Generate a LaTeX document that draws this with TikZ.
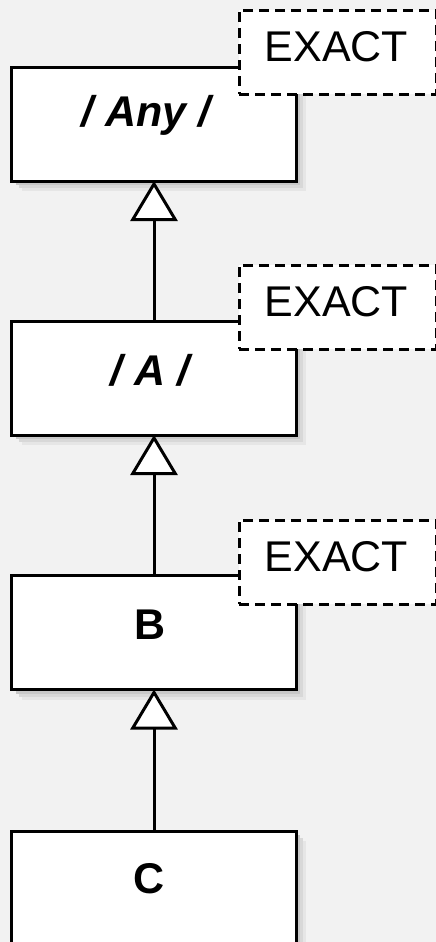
\documentclass[tikz,border=0pt]{standalone}
\usepackage{fontspec}
\setmainfont{Liberation Sans}
\usetikzlibrary{arrows.meta}
\definecolor{bg}{HTML}{F2F2F2}
\definecolor{sh1}{HTML}{E6E6E6}
\definecolor{sh2}{HTML}{D8D8D8}
\definecolor{sh3}{HTML}{C8C8C8}
\begin{document}
\begin{tikzpicture}[x=1bp,y=-1bp,
  cls/.style={draw=black, fill=white, line width=3bp, minimum width=284bp, minimum height=114bp, inner sep=0pt, outer sep=0pt},
  note/.style={draw=black, fill=white, line width=3bp, dash pattern=on 10bp off 6bp, minimum width=197bp, minimum height=84bp, inner sep=0pt, outer sep=0pt},
  big/.style={font=\fontsize{43bp}{50bp}\selectfont, inner sep=0pt},
  gen/.style={draw=black, line width=3bp, -{Triangle[open, length=40bp, width=47bp, fill=white]}}
]
\fill[bg] (0,0) rectangle (436,942);
\useasboundingbox (0,0) rectangle (436,942);
\clip (0,0) rectangle (436,942);
% boxes (positions only)
\path node[cls, draw=none, fill=none] (anyb) at (154,124) {}
      node[cls, draw=none, fill=none] (ab) at (154,378) {}
      node[cls, draw=none, fill=none] (bb) at (154,632.5) {}
      node[cls, draw=none, fill=none] (cb) at (154,888) {};
% shadows
\foreach \b in {anyb,ab,bb,cb}{
  \fill[sh1] ([shift={(10,10)}]\b.north west) rectangle ([shift={(10,10)}]\b.south east);
  \fill[sh2] ([shift={(7,7)}]\b.north west) rectangle ([shift={(7,7)}]\b.south east);
  \fill[sh3] ([shift={(4,4)}]\b.north west) rectangle ([shift={(4,4)}]\b.south east);
  \draw[cls] (\b.north west) rectangle (\b.south east);
}
% texts
\node[big] (anyt) at (148,115) {\textbf{\textit{/ Any /}}};
\node[big] (at) at (151.5,370) {\textbf{\textit{/ A /}}};
\node[big] (bt) at (150.5,625) {\textbf{B}};
\node[big] (ct) at (149.5,879) {\textbf{C}};
% notes
\node[note] (n1) at (337.5,52) {};
\node[note] (n2) at (337.5,307) {};
\node[note] (n3) at (337.5,562) {};
\node[big] (n1t) at (336.5,47) {EXACT};
\node[big] (n2t) at (336.5,302) {EXACT};
\node[big] (n3t) at (336.5,557) {EXACT};
% generalizations
\draw[gen] (ab.north) -- (anyb.south);
\draw[gen] (bb.north) -- (ab.south);
\draw[gen] (cb.north) -- (bb.south);
\end{tikzpicture}
\end{document}
